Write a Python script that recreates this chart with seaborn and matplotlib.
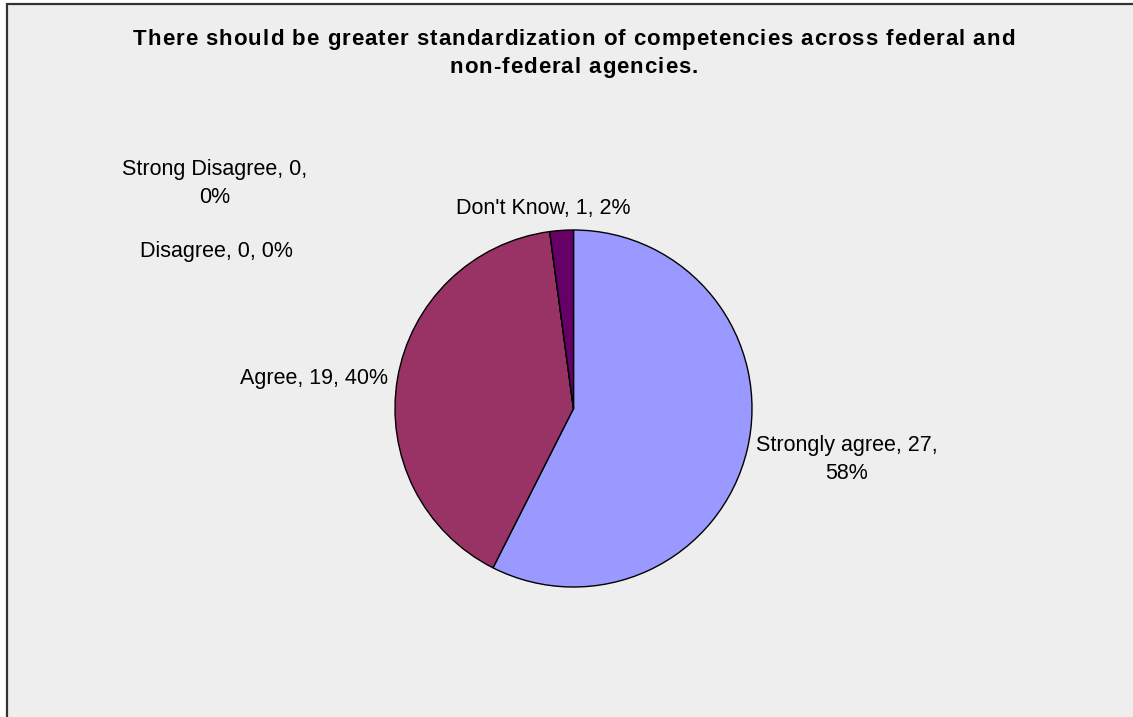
import matplotlib
matplotlib.use("Agg")
import matplotlib.pyplot as plt
import seaborn as sns
from matplotlib.patches import Rectangle
from matplotlib import font_manager
from matplotlib.font_manager import FontProperties
from matplotlib.ft2font import FT2Font

# Survey responses
categories = ["Strongly agree", "Agree", "Disagree", "Strong Disagree", "Don't Know"]
counts = [27, 19, 0, 0, 1]
percent_labels = ["58%", "40%", "0%", "0%", "2%"]
colors = ["#9999FF", "#993366", "#FFFFCC", "#CCFFFF", "#660066"]

title_lines = [
    "There should be greater standardization of competencies across federal and",
    "non-federal agencies.",
]

sns.set_style("white")
plt.rcParams["font.family"] = ["Liberation Sans", "DejaVu Sans"]

W, H = 1133, 717
DPI = 100
fig = plt.figure(figsize=(W / DPI, H / DPI), dpi=DPI)
fig.patch.set_facecolor("white")


def fx(px):
    return px / W


def fy(py):
    return 1 - py / H


# chart area panel with border
panel = Rectangle((7 / W, -0.01), 1.05, 1 - 4 / H + 0.01, transform=fig.transFigure,
                  facecolor="#EEEEEE", edgecolor="#333333", linewidth=1.6, zorder=-1)
fig.patches.append(panel)

# pie
cx, cy, r = 573.5, 408.5, 178.5
ax = fig.add_axes([fx(cx - r), fy(cy + r), 2 * r / W, 2 * r / H])
ax.set_facecolor("none")
ax.pie(counts, colors=colors, startangle=90, counterclock=False,
       wedgeprops=dict(edgecolor="black", linewidth=1.0))
ax.set_xlim(-1, 1)
ax.set_ylim(-1, 1)
ax.axis("off")

# data labels: (center x, first baseline y, wrap after count)
LABEL_SIZE = 15.5
label_pos = {
    "Strongly agree": (847, 451, True),
    "Agree": (314.5, 384, False),
    "Disagree": (216, 257, False),
    "Strong Disagree": (215, 175, True),
    "Don't Know": (543, 214, False),
}
for c, n, p in zip(categories, counts, percent_labels):
    x, y, wrap = label_pos[c]
    lines = [f"{c}, {n},", p] if wrap else [f"{c}, {n}, {p}"]
    for i, line in enumerate(lines):
        fig.text(fx(x), fy(y + 28 * i), line, ha="center", va="baseline",
                 fontsize=LABEL_SIZE, color="black")

# title, drawn glyph by glyph with extra tracking
TITLE_SIZE = 16
title_fp = FontProperties(family="Liberation Sans", weight="bold", size=TITLE_SIZE)
ft = FT2Font(font_manager.findfont(title_fp))
ft.set_size(TITLE_SIZE, DPI)


def advance(ch):
    g = ft.load_char(ord(ch))
    return g.linearHoriAdvance / 65536.0


tracking = 1.0
for i, line in enumerate(title_lines):
    advs = [advance(ch) for ch in line]
    total = sum(advs) + tracking * (len(line) - 1)
    x = 573.5 - total / 2
    base = 45 + 28 * i
    for ch, a in zip(line, advs):
        if ch != " ":
            fig.text(fx(x), fy(base), ch, ha="left", va="baseline",
                     fontproperties=title_fp, color="black")
        x += a + tracking

fig.savefig("out.png", dpi=DPI, facecolor=fig.get_facecolor())
